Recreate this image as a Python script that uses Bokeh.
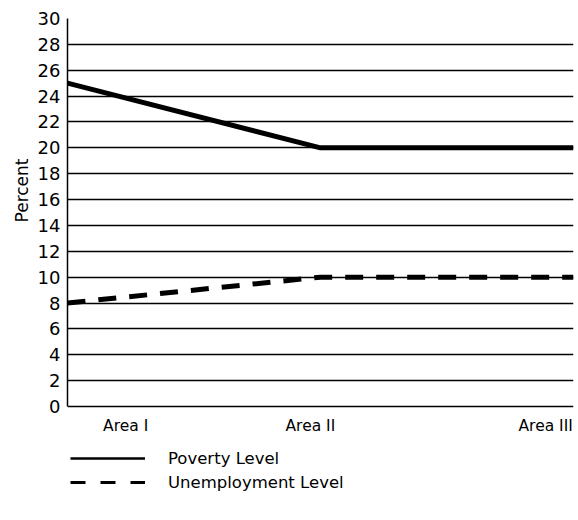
from bokeh.plotting import figure
from bokeh.models import Range1d, FixedTicker, Legend, LegendItem, ColumnDataSource, Title
from bokeh.embed import file_html
from bokeh.resources import INLINE

# ---- data ----
areas = ["Area I", "Area II", "Area III"]
area_x = [0, 1, 2]
poverty = [25, 20, 20]
unemployment = [8, 10, 10]
y_ticks = list(range(0, 31, 2))
series_names = ["Poverty Level", "Unemployment Level"]
y_title = "Percent"

# ---- style constants ----
FONT = "DejaVu Sans"
label_positions = [0.23, 0.96, 1.89]  # where category labels sit under the axis

# the frame extends below 0 to hold the key; the axes are bounded to 0..30
p = figure(width=578, height=520, output_backend="svg", toolbar_location=None,
           x_range=Range1d(0, 2), y_range=Range1d(-8.2, 30),
           min_border_left=67, min_border_right=5, min_border_top=18, min_border_bottom=8)
p.outline_line_color = None
p.background_fill_color = "white"

# axes
p.yaxis.ticker = FixedTicker(ticks=y_ticks)
p.yaxis.bounds = (0, 30)
p.yaxis.major_label_text_font = FONT
p.yaxis.major_label_text_font_size = "18px"
p.yaxis.major_label_text_color = "black"
p.yaxis.major_tick_out = 0
p.yaxis.major_tick_in = 0
p.yaxis.minor_tick_out = 0
p.yaxis.minor_tick_in = 0
p.yaxis.major_label_standoff = 7
p.yaxis.axis_line_color = "black"
p.yaxis.axis_line_width = 1.5

p.add_layout(Title(text=y_title, align="right", offset=140, standoff=6,
                   text_font=FONT, text_font_size="17px", text_font_style="normal",
                   text_color="black"), "left")

p.xaxis.fixed_location = 0
p.xaxis.ticker = FixedTicker(ticks=label_positions)
p.xaxis.major_label_overrides = {pos: name for pos, name in zip(label_positions, areas)}
p.xaxis.major_label_text_font = FONT
p.xaxis.major_label_text_font_size = "15.5px"
p.xaxis.major_label_text_color = "black"
p.xaxis.major_tick_out = 0
p.xaxis.major_tick_in = 0
p.xaxis.minor_tick_out = 0
p.xaxis.minor_tick_in = 0
p.xaxis.axis_line_color = None
p.xaxis.major_label_standoff = 11

# grid
p.xgrid.grid_line_color = None
p.ygrid.ticker = FixedTicker(ticks=y_ticks)
p.ygrid.grid_line_color = "black"
p.ygrid.grid_line_width = 1.6

# data lines
p.line(area_x, poverty, line_color="black", line_width=5)
p.line(area_x, unemployment, line_color="black", line_width=5, line_dash="18 13")

# legend proxies (single-point lines draw nothing; thinner strokes as in the key)
r1 = p.line(x="x", y="y", source=ColumnDataSource(dict(x=area_x[:1], y=poverty[:1])),
            line_color="black", line_width=2.5)
r2 = p.line(x="x", y="y", source=ColumnDataSource(dict(x=area_x[:1], y=unemployment[:1])),
            line_color="black", line_width=3, line_dash="15 15")

legend = Legend(items=[LegendItem(label=series_names[0], renderers=[r1]),
                       LegendItem(label=series_names[1], renderers=[r2])],
                location=(3, 20), orientation="vertical",
                border_line_color=None, background_fill_alpha=0,
                padding=0, margin=0, spacing=4,
                glyph_width=75, glyph_height=20, label_height=20,
                label_standoff=23,
                label_text_font=FONT, label_text_font_size="16.5px", label_text_color="black")
p.add_layout(legend, "center")

open("out.html", "w").write(file_html(p, INLINE))
